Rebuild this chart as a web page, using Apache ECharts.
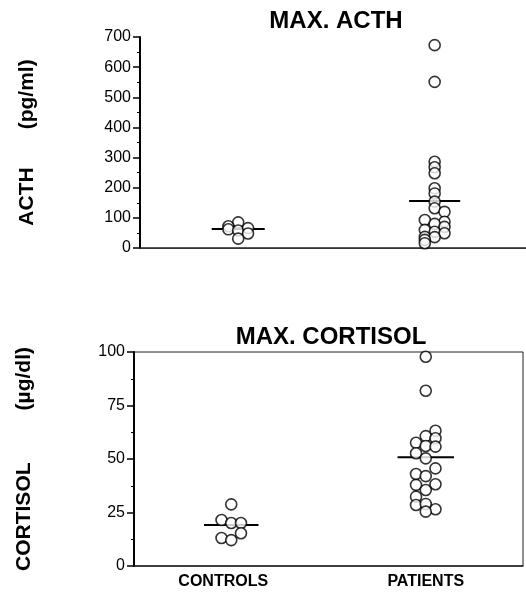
<!DOCTYPE html>
<html>
<head>
<meta charset="utf-8">
<script src="https://cdn.jsdelivr.net/npm/echarts@6/dist/echarts.min.js"></script>
<style>
  html, body { margin: 0; padding: 0; background: #fff; }
  #chart { width: 526px; height: 592px; }
</style>
</head>
<body>
<div id="chart"></div>
<script>
// groups on the x axis
var groups = ['CONTROLS', 'PATIENTS'];
var groupX = [1, 3];

// ACTH (pg/ml), values + small horizontal spread of the dots
var acthControls = [85, 72, 62, 58, 66, 48, 31];
var acthControlsSpread = [0, -0.1, -0.1, 0, 0.1, 0.1, 0];
var acthPatients = [673, 551, 286, 268, 248, 198, 181, 154, 132, 120, 93, 87, 80, 70, 60, 54, 49, 37, 36, 27, 16];
var acthPatientsSpread = [0, 0, 0, 0, 0, 0, 0, 0, 0, 0.1, -0.1, 0.1, 0, 0.1, -0.1, 0, 0.1, -0.1, 0, -0.1, -0.1];
var acthMeans = [63, 156];

// CORTISOL (ug/dl)
var cortControls = [28.8, 21.5, 20.1, 20.1, 13.1, 12.1, 15.3];
var cortControlsSpread = [0, -0.1, 0, 0.1, -0.1, 0, 0.1];
var cortPatients = [97.8, 81.9, 63.2, 60.7, 59.7, 57.6, 56.1, 55.8, 52.7, 50.3, 45.6, 43, 42, 37.9, 38.2, 35.5, 32.4, 28.5, 29, 26.5, 25.4];
var cortPatientsSpread = [0, 0, 0.1, 0, 0.1, -0.1, 0, 0.1, -0.1, 0, 0.1, -0.1, 0, -0.1, 0.1, 0, -0.1, -0.1, 0, 0.1, 0];
var cortMeans = [19.2, 50.8];

var acthTicks = [0, 100, 200, 300, 400, 500, 600, 700];
var cortTicks = [0, 25, 50, 75, 100];

var fontName = 'Liberation Sans, Arial, sans-serif';

function dots(vals, spread, cx) {
    var out = [];
    for (var i = 0; i < vals.length; i++) {
        out.push([cx + spread[i], vals[i]]);
    }
    return out;
}

function meanLine(m, cx, halfW) {
    return [[cx - halfW, m], [cx + halfW, m]];
}

var dotStyle = {
    type: 'scatter',
    symbol: 'circle',
    symbolSize: 11,
    itemStyle: { color: '#fff', borderColor: '#000', borderWidth: 1.6 },
    silent: true,
    z: 3
};

function scatter(xi, yi, data) {
    return Object.assign({}, dotStyle, { xAxisIndex: xi, yAxisIndex: yi, data: data });
}

function line(xi, yi, data) {
    return {
        type: 'line', xAxisIndex: xi, yAxisIndex: yi, data: data,
        symbol: 'none', lineStyle: { color: '#000', width: 2 }, silent: true, z: 2
    };
}

function yName(a, b) {
    return '{b|' + a + '}{s|}{b|' + b + '}';
}

var yAxisBase = {
    type: 'value',
    nameLocation: 'middle',
    nameRotate: 90,
    axisLine: { show: true, lineStyle: { color: '#000', width: 2 } },
    axisTick: { show: true, length: 7, lineStyle: { color: '#000', width: 1.5 } },
    minorTick: { show: true, splitNumber: 2, length: 3, lineStyle: { color: '#000', width: 1 } },
    splitLine: { show: false },
    axisLabel: { color: '#000', fontSize: 16, fontFamily: fontName, margin: 9 }
};

var myChart = echarts.init(document.getElementById('chart'));
var option = {
    backgroundColor: '#fff',
    animation: false,
    title: [
        { text: 'MAX. ACTH', left: 331, top: 4, textAlign: 'center',
          textStyle: { fontSize: 24, fontWeight: 'bold', color: '#000', fontFamily: fontName } },
        { text: 'MAX. CORTISOL', left: 326, top: 320, textAlign: 'center',
          textStyle: { fontSize: 24, fontWeight: 'bold', color: '#000', fontFamily: fontName } }
    ],
    grid: [
        { left: 140, top: 37, right: 0, height: 211 },
        { left: 134, top: 352, right: 2, height: 214, show: true, borderColor: '#222', borderWidth: 1 }
    ],
    xAxis: [
        { gridIndex: 0, type: 'value', min: 0, max: 3.93, position: 'bottom',
          axisLine: { show: true, onZero: false, lineStyle: { color: '#222', width: 1.5 } },
          axisTick: { show: false }, axisLabel: { show: false }, splitLine: { show: false } },
        { gridIndex: 0, type: 'value', min: 0, max: 3.93, position: 'top',
          axisLine: { show: true, lineStyle: { color: '#333', width: 1 } },
          axisTick: { show: false }, axisLabel: { show: false }, splitLine: { show: false } },
        { gridIndex: 1, type: 'value', min: 0, max: 4, interval: 1, position: 'bottom',
          axisLine: { show: true, onZero: false, lineStyle: { color: '#222', width: 1.5 } },
          axisTick: { show: false }, splitLine: { show: false },
          axisLabel: {
              color: '#000', fontSize: 16, fontWeight: 'bold', fontFamily: fontName, margin: 8,
              formatter: function (v) {
                  var i = groupX.indexOf(v);
                  if (i === 0) return '{l|' + groups[i] + '}';
                  return i >= 0 ? groups[i] : '';
              },
              rich: {
                  l: { fontSize: 16, fontWeight: 'bold', color: '#000', fontFamily: fontName, padding: [0, 16, 0, 0] }
              }
          } }
    ],
    yAxis: [
        Object.assign({}, yAxisBase, {
            gridIndex: 0, min: acthTicks[0], max: acthTicks[acthTicks.length - 1], interval: 100,
            name: yName('ACTH', '(pg/ml)'), nameGap: 102,
            nameTextStyle: { rich: {
                b: { fontSize: 21, fontWeight: 'bold', color: '#000', fontFamily: fontName },
                s: { width: 38 }
            } }
        }),
        Object.assign({}, yAxisBase, {
            gridIndex: 1, min: cortTicks[0], max: cortTicks[cortTicks.length - 1], interval: 25,
            name: yName('CORTISOL', '(\u00b5g/dl)'), nameGap: 99,
            nameTextStyle: { rich: {
                b: { fontSize: 21, fontWeight: 'bold', color: '#000', fontFamily: fontName },
                s: { width: 52 }
            } }
        })
    ],
    series: [
        line(0, 0, meanLine(acthMeans[0], groupX[0], 0.27)),
        line(0, 0, meanLine(acthMeans[1], groupX[1], 0.26)),
        scatter(0, 0, dots(acthControls, acthControlsSpread, groupX[0])),
        scatter(0, 0, dots(acthPatients, acthPatientsSpread, groupX[1])),
        line(2, 1, meanLine(cortMeans[0], groupX[0], 0.28)),
        line(2, 1, meanLine(cortMeans[1], groupX[1], 0.29)),
        scatter(2, 1, dots(cortControls, cortControlsSpread, groupX[0])),
        scatter(2, 1, dots(cortPatients, cortPatientsSpread, groupX[1]))
    ]
};
myChart.setOption(option);
</script>
</body>
</html>
